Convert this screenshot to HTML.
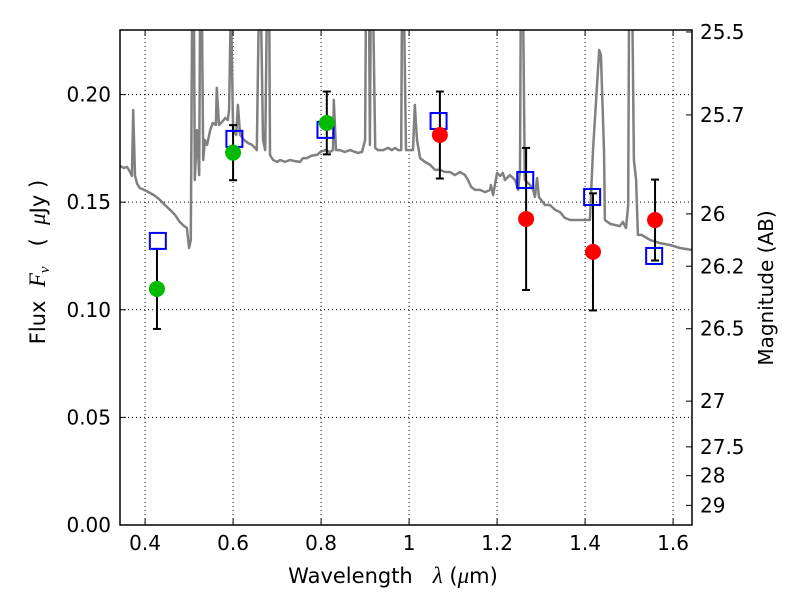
<!DOCTYPE html>
<html><head><meta charset="utf-8"><style>
body{margin:0;background:#fff}
svg{display:block;font-family:"DejaVu Sans","Liberation Sans",sans-serif}
</style></head><body>
<svg id="chart" width="800" height="600" xmlns="http://www.w3.org/2000/svg"></svg>
<script>
const xTicks=[0.4,0.6,0.8,1.0,1.2,1.4,1.6];
const xTickLabels=["0.4","0.6","0.8","1","1.2","1.4","1.6"];
const yTicks=[0,0.05,0.10,0.15,0.20];
const yTickLabels=["0.00","0.05","0.10","0.15","0.20"];
const magTicks=[25.5,25.7,26,26.2,26.5,27,27.5,28,29];
const magTickLabels=["25.5","25.7","26","26.2","26.5","27","27.5","28","29"];
const photWave=[0.427,0.600,0.813,1.070,1.266,1.418,1.559];
const photFlux=[0.1097,0.173,0.1868,0.1812,0.1422,0.1269,0.1417];
const photErr=[0.0186,0.0128,0.0146,0.0202,0.033,0.0272,0.0188];
const photColor=["#00bb00","#00bb00","#00bb00","#ff0000","#ff0000","#ff0000","#ff0000"];
const modelWave=[0.429,0.603,0.81,1.067,1.264,1.416,1.557];
const modelFlux=[0.1320,0.1794,0.1836,0.1877,0.1603,0.1524,0.1250];
const specWave=[0.343,0.352,0.359,0.366,0.370,0.373,0.377,0.382,0.388,0.400,0.411,0.423,0.434,0.445,0.457,0.468,0.479,0.488,0.495,0.500,0.504,0.507,0.511,0.513,0.518,0.523,0.525,0.529,0.532,0.536,0.541,0.548,0.554,0.561,0.563,0.568,0.575,0.582,0.588,0.591,0.595,0.600,0.607,0.611,0.616,0.625,0.634,0.643,0.650,0.654,0.659,0.663,0.668,0.673,0.677,0.682,0.684,0.691,0.700,0.707,0.718,0.729,0.741,0.752,0.759,0.768,0.777,0.786,0.791,0.798,0.809,0.820,0.827,0.829,0.834,0.843,0.854,0.866,0.877,0.884,0.893,0.900,0.902,0.909,0.911,0.913,0.918,0.923,0.929,0.941,0.952,0.961,0.968,0.975,0.982,0.984,0.988,0.993,1.002,1.009,1.013,1.018,1.025,1.036,1.048,1.059,1.070,1.082,1.093,1.104,1.116,1.127,1.134,1.141,1.150,1.161,1.173,1.184,1.186,1.191,1.195,1.200,1.207,1.213,1.218,1.229,1.241,1.248,1.252,1.254,1.259,1.263,1.275,1.282,1.286,1.291,1.295,1.309,1.320,1.332,1.343,1.354,1.366,1.411,1.418,1.432,1.436,1.443,1.445,1.457,1.468,1.479,1.486,1.493,1.498,1.500,1.507,1.511,1.516,1.520,1.529,1.548,1.570,1.593,1.616,1.643];
const specFlux=[0.1668,0.1659,0.1664,0.1640,0.1622,0.1928,0.1622,0.1585,0.1566,0.1555,0.1543,0.1529,0.1510,0.1487,0.1464,0.1441,0.1408,0.1390,0.1380,0.1287,0.1324,0.245,0.245,0.1603,0.1835,0.1626,0.245,0.245,0.1696,0.1789,0.1766,0.1835,0.1868,0.1859,0.2031,0.1859,0.1873,0.1891,0.1882,0.1928,0.245,0.1835,0.1812,0.1952,0.1812,0.1789,0.1775,0.1766,0.1752,0.1742,0.245,0.245,0.1789,0.1742,0.245,0.245,0.1719,0.1696,0.1687,0.1696,0.1687,0.1696,0.1691,0.1687,0.1705,0.1705,0.1715,0.1719,0.1719,0.1733,0.1742,0.1733,0.1742,0.1975,0.1742,0.1742,0.1733,0.1742,0.1733,0.1729,0.1733,0.1789,0.245,0.245,0.1766,0.245,0.245,0.1752,0.1742,0.1742,0.1752,0.1742,0.1752,0.1742,0.1742,0.245,0.245,0.1742,0.1742,0.1742,0.1952,0.1789,0.1705,0.1687,0.1673,0.1650,0.1650,0.1640,0.1640,0.1626,0.1640,0.1626,0.1603,0.1571,0.1557,0.1557,0.1547,0.1557,0.1580,0.1533,0.1580,0.1636,0.1622,0.1636,0.1603,0.1626,0.1603,0.1557,0.1650,0.245,0.245,0.1603,0.1580,0.1557,0.1524,0.1612,0.1524,0.1487,0.1487,0.1464,0.1454,0.1427,0.1417,0.1417,0.1742,0.2207,0.2184,0.1742,0.1417,0.1399,0.1394,0.1389,0.1408,0.1380,0.1487,0.245,0.245,0.1696,0.1603,0.1348,0.1348,0.1324,0.1310,0.1301,0.1287,0.1278];

const svg=document.getElementById('chart');
const NS='http://www.w3.org/2000/svg';
const L=120,R=692,T=30,B=525;
const xMin=0.343,xMax=1.643,yMin=0,yMax=0.23;
const sx=v=>L+(v-xMin)/(xMax-xMin)*(R-L);
const sy=v=>B-(v-yMin)/(yMax-yMin)*(B-T);
const magToFlux=m=>Math.pow(10,(23.9-m)/2.5);
function el(tag,attrs,parent){const e=document.createElementNS(NS,tag);for(const k in attrs)e.setAttribute(k,attrs[k]);(parent||svg).appendChild(e);return e;}
function txt(s,attrs,parent){const e=el('text',attrs,parent);e.textContent=s;return e;}

const defs=el('defs',{});
const cp=el('clipPath',{id:'clip'},defs);
el('rect',{x:L,y:T,width:R-L,height:B-T},cp);

const grid=el('g',{});


xTicks.forEach(v=>el('line',{x1:sx(v),x2:sx(v),y1:T,y2:B,stroke:'#000','stroke-width':1,'stroke-dasharray':'1,3'},grid));
yTicks.forEach(v=>el('line',{x1:L,x2:R,y1:sy(v),y2:sy(v),stroke:'#000','stroke-width':1,'stroke-dasharray':'1,3'},grid));

const g=el('g',{'clip-path':'url(#clip)'});
let d='';
specWave.forEach((w,i)=>{d+=(i?'L':'M')+sx(w).toFixed(1)+','+sy(specFlux[i]).toFixed(1);});
const spec=el('path',{d:d,fill:'none',stroke:'#808080','stroke-width':2.5,'stroke-linejoin':'round'},g);



photWave.forEach((w,i)=>{
  const x=sx(w),y1=sy(photFlux[i]-photErr[i]),y2=sy(photFlux[i]+photErr[i]);
  const eb=el('g',{stroke:'#000','stroke-width':2},g);
  
  
  el('line',{x1:x,x2:x,y1:y1,y2:y2},eb);
  el('line',{x1:x-4,x2:x+4,y1:y1,y2:y1},eb);
  el('line',{x1:x-4,x2:x+4,y1:y2,y2:y2},eb);
});
modelWave.forEach((w,i)=>{
  const r=el('rect',{x:sx(w)-8,y:sy(modelFlux[i])-8,width:16,height:16,fill:'none',stroke:'#0000ff','stroke-width':2},g);
  
  
});
photWave.forEach((w,i)=>{
  const c=el('circle',{cx:sx(w),cy:sy(photFlux[i]),r:8,fill:photColor[i]},g);
  
  
});

const fr=el('rect',{x:L,y:T,width:R-L,height:B-T,fill:'none',stroke:'#000','stroke-width':1.5});



const xa=el('g',{'font-size':20});


xTicks.forEach((v,i)=>{
  const x=sx(v);
  el('line',{x1:x,x2:x,y1:B,y2:B-6,stroke:'#000'},xa);
  el('line',{x1:x,x2:x,y1:T,y2:T+6,stroke:'#000'},xa);
  txt(xTickLabels[i],{x:x,y:B+25,'text-anchor':'middle'},xa);
});
const ya=el('g',{'font-size':20});


yTicks.forEach((v,i)=>{
  const y=sy(v);
  el('line',{x1:L,x2:L+6,y1:y,y2:y,stroke:'#000'},ya);
  txt(yTickLabels[i],{x:L-9,y:y+7,'text-anchor':'end'},ya);
});
const ra=el('g',{'font-size':20});


magTicks.forEach((m,i)=>{
  const y=sy(magToFlux(m));
  el('line',{x1:R,x2:R-6,y1:y,y2:y,stroke:'#000'},ra);
  txt(magTickLabels[i],{x:R+8,y:y+7,'text-anchor':'start'},ra);
});

const xl=txt('',{x:393,y:583,'text-anchor':'middle','font-size':21,'xml:space':'preserve',style:'white-space:pre'});


xl.innerHTML='Wavelength   <tspan font-style="italic" font-family="Liberation Serif,serif" font-size="23">λ</tspan> (<tspan font-style="italic" font-family="Liberation Serif,serif" font-size="23">μ</tspan>m)';
const yl=txt('',{x:0,y:0,'text-anchor':'middle','font-size':21,style:'white-space:pre',transform:'translate(45,262) rotate(-90)'});


yl.innerHTML='Flux  <tspan font-style="italic" font-family="Liberation Serif,serif" font-size="23">F</tspan><tspan font-style="italic" font-family="Liberation Serif,serif" font-size="15" dy="4">ν</tspan><tspan dy="-4">   (  </tspan><tspan font-style="italic" font-family="Liberation Serif,serif" font-size="23">μ</tspan>Jy )';
const rl=txt('Magnitude (AB)',{x:0,y:0,'text-anchor':'middle','font-size':20,transform:'translate(773,288) rotate(-90)'});


</script>
</body></html>
